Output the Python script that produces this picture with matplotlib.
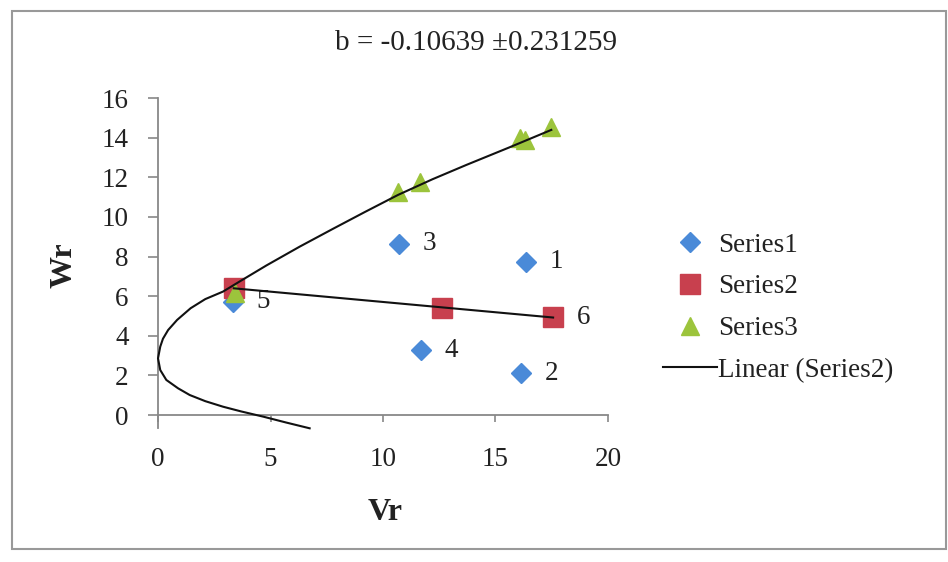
import numpy as np
import matplotlib
matplotlib.use("Agg")
import matplotlib.pyplot as plt
from matplotlib.patches import Rectangle

plt.rcParams['font.family'] = ['Liberation Serif', 'DejaVu Serif']

# scatter data
vr1 = [16.34, 16.15, 10.71, 11.68, 3.33]
wr1 = [7.74, 2.10, 8.64, 3.28, 5.72]
vr2 = [3.37, 12.62, 17.56]
wr2 = [6.40, 5.42, 4.93]
vr3 = [3.41, 10.67, 11.63, 16.10, 16.30, 17.48]
wr3 = [6.15, 11.28, 11.78, 14.00, 13.90, 14.56]

point_labels = ['1', '2', '3', '4', '5']
last_label = '6'

# hand-drawn curve through the points
vr_curve = [6.74, 5.70, 4.67, 3.70, 2.89, 2.10, 1.41, 0.89, 0.37, 0.10, 0.0,
            0.10, 0.22, 0.45, 0.85, 1.45, 2.10, 2.89, 3.60, 4.82, 6.30, 7.78,
            9.20, 10.67, 12.20, 13.70, 15.60, 17.48]
wr_curve = [-0.67, -0.38, -0.08, 0.18, 0.42, 0.70, 1.01, 1.35, 1.77, 2.27, 2.86,
            3.45, 3.85, 4.29, 4.80, 5.39, 5.85, 6.23, 6.72, 7.55, 8.50, 9.40,
            10.25, 11.11, 11.90, 12.62, 13.50, 14.39]

title = "b = -0.10639 \u00b10.231259"

W, H = 948, 562
fig = plt.figure(figsize=(W / 100, H / 100), dpi=100)
fig.patch.set_facecolor('white')

ax = fig.add_axes([158 / W, 1 - 428.3 / H, 450 / W, (428.3 - 98) / H])

blue = '#4a8ad8'
red = '#c8404e'
green = '#9cc43c'
ink = '#222222'
fs = 19.5

h1, = ax.plot(vr1, wr1, 'D', color=blue, markersize=10, linestyle='none',
              label='Series1', zorder=3, clip_on=False)
h2, = ax.plot(vr2, wr2, 's', color=red, markersize=14, linestyle='none',
              label='Series2', zorder=3, clip_on=False)
h3, = ax.plot(vr3, wr3, '^', color=green, markersize=13, linestyle='none',
              label='Series3', zorder=3, clip_on=False)

# linear trend of Series2
slope, icpt = np.polyfit(vr2, wr2, 1)
xs = np.array([min(vr2), max(vr2)])
h4, = ax.plot(xs, slope * xs + icpt, color='#111111', lw=1.5,
              label='Linear (Series2)', zorder=4)

ax.plot(vr_curve, wr_curve, color='#111111', lw=1.5, zorder=4, clip_on=False,
        solid_joinstyle='round')

for x, y, t in zip(vr1, wr1, point_labels):
    ax.annotate(t, (x, y), xytext=(17, 0), textcoords='offset points',
                ha='left', va='center', fontsize=fs, color=ink)
ax.annotate(last_label, (vr2[-1], wr2[-1]), xytext=(17, 0),
            textcoords='offset points', ha='left', va='center',
            fontsize=fs, color=ink)

ax.set_xlim(0, 20)
ax.set_ylim(-0.67, 16)
ax.set_xticks([0, 5, 10, 15, 20])
ax.set_yticks(range(0, 17, 2))

ax.spines['top'].set_visible(False)
ax.spines['right'].set_visible(False)
ax.spines['bottom'].set_position(('data', 0))
for s in ('left', 'bottom'):
    ax.spines[s].set_color('#888888')
    ax.spines[s].set_linewidth(1.3)

ax.tick_params(axis='y', direction='out', length=7, width=1.2, color='#888888',
               labelsize=fs, pad=14, labelcolor=ink)
ax.tick_params(axis='x', direction='out', length=5, width=1.2, color='#888888',
               labelsize=fs, pad=18, labelcolor=ink)

fig.text(476 / W, 1 - 43 / H, title, ha='center', va='center', fontsize=21,
         color=ink)
fig.text(64 / W, 1 - 265 / H, 'Wr', rotation=90, ha='center', va='center',
         fontsize=23, fontweight='bold', color=ink)
fig.text(385 / W, 1 - 513 / H, 'Vr', ha='center', va='center',
         fontsize=23, fontweight='bold', color=ink)

fig.legend(handles=[h1, h2, h3, h4], loc='upper left',
           bbox_to_anchor=(649 / W, 1 - 219 / H), frameon=False,
           fontsize=fs, labelspacing=0.62, handlelength=2.0,
           handletextpad=0.05, borderpad=0, labelcolor=ink)

fig.patches.append(Rectangle((12 / W, 1 - 549 / H), 934 / W, 538 / H,
                             transform=fig.transFigure, fill=False,
                             edgecolor='#999999', lw=1.5))

fig.savefig('out.png', dpi=100)
